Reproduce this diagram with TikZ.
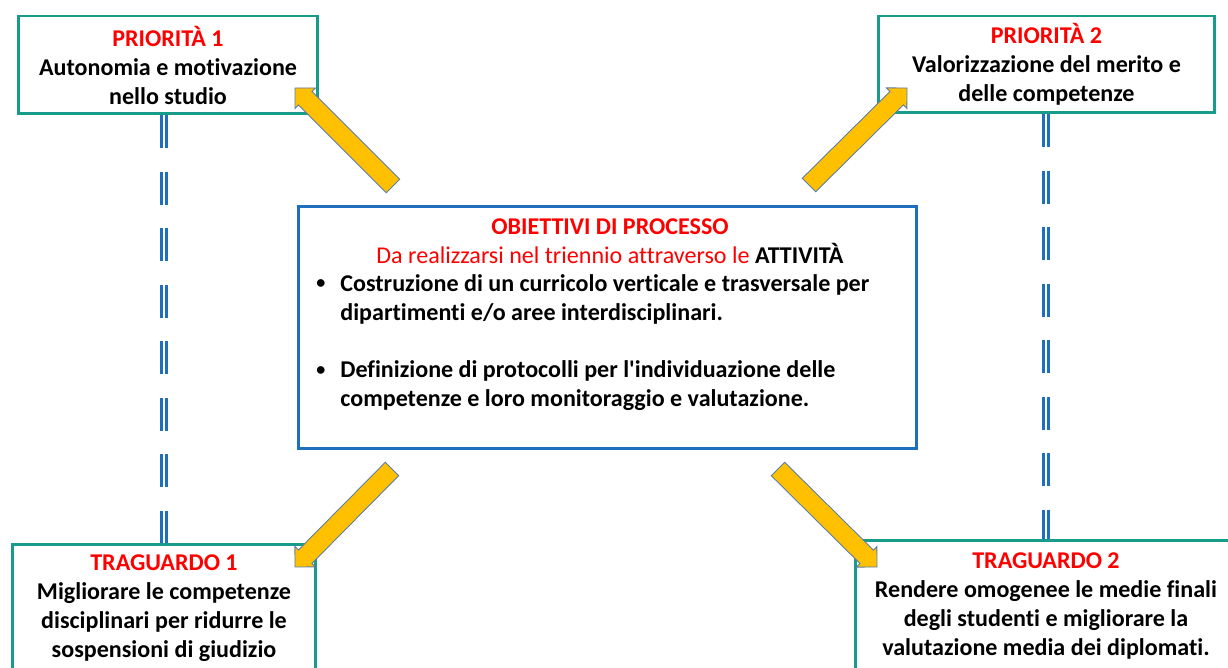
\documentclass[tikz,border=0pt]{standalone}
\usepackage{fontspec}
\setmainfont{Carlito}[Ligatures=NoCommon]
\usetikzlibrary{calc}

\definecolor{boxgreen}{HTML}{179B8B}
\definecolor{boxblue}{HTML}{1F6FBF}
\definecolor{arrowfill}{HTML}{FFC000}
\definecolor{arrowedge}{HTML}{5B7CA8}

% bullet hung in the left margin of a line
\newcommand{\bullettag}{\llap{\makebox[0.48cm][l]{\raisebox{0.12em}{\scalebox{0.75}{\textbullet}}}}}

% block arrow from tail coordinate #1 to tip coordinate #2
\newcommand{\yellowarrow}[2]{%
  \coordinate (#1back) at ($(#2)!0.29cm!(#1)$);
  \filldraw[yarrow]
    ($(#1)!0.19cm!90:(#2)$) -- ($(#1back)!0.19cm!90:(#2)$) --
    ($(#1back)!0.29cm!90:(#2)$) -- (#2) --
    ($(#1back)!0.29cm!-90:(#2)$) -- ($(#1back)!0.19cm!-90:(#2)$) --
    ($(#1)!0.19cm!-90:(#2)$) -- cycle;
}

\begin{document}
\begin{tikzpicture}[
                    x=0.02cm,
                    y=-0.02cm,
                    font=\fontsize{13.7}{16.5}\selectfont,
                    greenbox/.style={draw=boxgreen, line width=1.7pt, align=center,
                                     inner sep=0pt, font=\bfseries\fontsize{13.7}{16.5}\selectfont},
                    bluebox/.style={draw=boxblue, line width=1.7pt,
                                    minimum width=12.38cm, minimum height=4.86cm},
                    item/.style={anchor=west, align=left, inner sep=0pt,
                                 font=\bfseries\fontsize{13.7}{16.5}\selectfont},
                    link/.style={draw=boxblue, line width=1.2pt, double=white,
                                 double distance=1.6pt, dash pattern=on 0.66cm off 0.47cm},
                    yarrow/.style={fill=arrowfill, draw=arrowedge, line width=0.5pt}
                ]
                \useasboundingbox (0,0) rectangle (1228,668);

                \node (prio1) [greenbox, minimum width=6cm,    minimum height=1.96cm] at (168,65)
                    {\textcolor{red}{PRIORITÀ 1}\\Autonomia e motivazione\\nello studio};
                \node (prio2) [greenbox, minimum width=6.74cm, minimum height=1.94cm] at (1046.5,64.5)
                    {\textcolor{red}{PRIORITÀ 2}\\Valorizzazione del merito e\\delle competenze};
                \node (goal1) [greenbox, minimum width=6.08cm, minimum height=2.56cm] at (164,608)
                    {\textcolor{red}{TRAGUARDO 1}\\Migliorare le competenze\\disciplinari per ridurre le\\sospensioni di giudizio};
                \node (goal2) [greenbox, minimum width=7.64cm, minimum height=2.64cm] at (1046,606)
                    {\textcolor{red}{TRAGUARDO 2}\\Rendere omogenee le medie finali\\degli studenti e migliorare la\\valutazione media dei diplomati.};

                \node (obj)      [bluebox]                    at (607.5,327.5) {};
                \node (objtitle) [align=center, text=red]     at (610,241)
                    {\textbf{OBIETTIVI DI PROCESSO}\\Da realizzarsi nel triennio attraverso le \textbf{\textcolor{black}{ATTIVITÀ}}};
                \node (item1)    [item]                       at (340,299)
                    {\bullettag Costruzione di un curricolo verticale e trasversale per\\dipartimenti e/o aree interdisciplinari.};
                \node (item2)    [item]                       at (340,386)
                    {\bullettag Definizione di protocolli per l\textquotesingle individuazione delle\\competenze e loro monitoraggio e valutazione.};

                \path
                (goal1.north |- prio1.south) edge [link] (goal1.north)
                (goal2.north |- prio2.south) edge [link] (goal2.north)
                ;

                \coordinate (tail1) at (393,186);
                \coordinate (tip1)  at (295,88);
                \coordinate (tail2) at (809,185);
                \coordinate (tip2)  at (907,88);
                \coordinate (tail3) at (392,469);
                \coordinate (tip3)  at (295,567);
                \coordinate (tail4) at (778,469);
                \coordinate (tip4)  at (877,567);

                \yellowarrow{tail1}{tip1}
                \yellowarrow{tail2}{tip2}
                \yellowarrow{tail3}{tip3}
                \yellowarrow{tail4}{tip4}
            \end{tikzpicture}
\end{document}
